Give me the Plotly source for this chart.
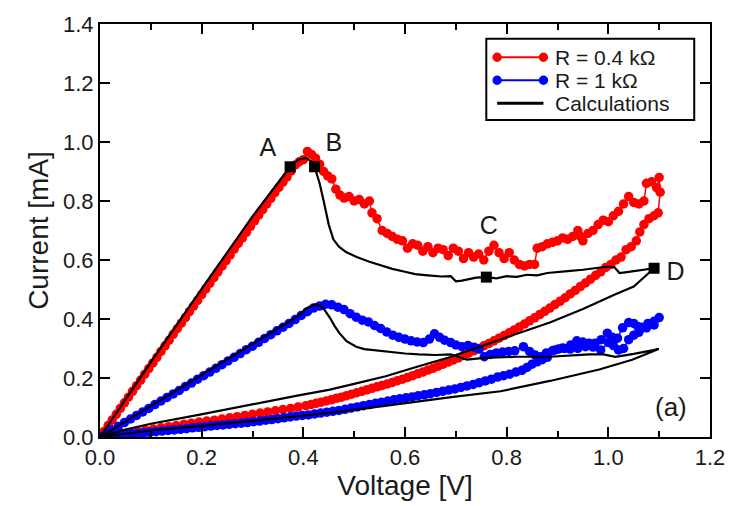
import plotly.graph_objects as go

# ---------------- data ----------------
red_v = [0.000,0.008,0.016,0.024,0.032,0.040,0.048,0.056,0.064,0.072,0.080,0.088,0.096,0.104,0.112,0.120,0.128,0.136,0.144,0.152,
         0.160,0.168,0.176,0.184,0.192,0.200,0.208,0.216,0.224,0.232,0.240,0.248,0.256,0.264,0.272,0.280,0.288,0.296,0.304,0.312,
         0.320,0.328,0.336,0.344,0.352,0.360,0.368,0.376,0.384,0.392,0.400,0.408,0.416,0.424,0.432,0.440,0.448,0.456,0.464,0.472,
         0.480,0.490,0.500,0.510,0.520,0.530,0.535,0.545,0.555,0.565,0.575,0.585,0.595,0.605,0.615,0.625,0.635,0.645,0.655,0.665,
         0.675,0.685,0.695,0.705,0.715,0.725,0.735,0.745,0.755,0.765,0.775,0.785,0.795,0.805,0.815,0.825,0.835,0.845,0.855,0.860,
         0.870,0.880,0.890,0.900,0.910,0.920,0.930,0.940,0.945,0.950,0.960,0.970,0.980,0.990,1.000,1.010,1.020,1.030,1.040,1.050,
         1.060,1.070,1.075,1.085,1.095,1.100,1.102,
         1.098,1.090,1.080,1.070,1.062,1.055,1.045,1.035,1.025,1.015,1.005,0.995,0.985,0.975,0.965,0.955,0.945,0.935,0.925,0.915,
         0.905,0.895,0.885,0.875,0.865,0.855,0.845,0.835,0.825,0.815,0.805,0.795,0.785,0.775,0.765,0.755,0.745,0.735,0.725,0.715,
         0.705,0.695,0.685,0.675,0.665,0.655,0.645,0.635,0.625,0.615,0.605,0.595,0.585,0.575,0.565,0.555,0.545,0.535,0.525,0.515,
         0.505,0.495,0.485,0.475,0.465,0.455,0.445,0.435,0.425,0.415,0.405,0.390,0.375,0.360,0.345,0.330,0.315,0.300,0.285,0.270,
         0.255,0.240,0.225,0.210,0.195,0.180,0.165,0.150,0.135,0.120,0.105,0.090,0.075,0.060,0.045,0.030,0.015,0.000]
red_i = [0.000,0.019,0.039,0.058,0.077,0.097,0.116,0.135,0.155,0.174,0.193,0.213,0.232,0.251,0.270,0.290,0.309,0.328,0.348,0.367,
         0.386,0.405,0.425,0.444,0.463,0.483,0.502,0.521,0.540,0.560,0.579,0.598,0.617,0.637,0.656,0.675,0.694,0.714,0.733,0.752,
         0.771,0.790,0.809,0.828,0.846,0.864,0.882,0.902,0.922,0.933,0.940,0.968,0.958,0.945,0.925,0.900,0.885,0.875,0.840,0.820,
         0.810,0.815,0.800,0.805,0.790,0.800,0.760,0.740,0.700,0.690,0.680,0.670,0.665,0.640,0.655,0.650,0.630,0.645,0.625,0.640,
         0.635,0.615,0.640,0.630,0.605,0.625,0.610,0.620,0.600,0.630,0.650,0.625,0.605,0.625,0.600,0.585,0.580,0.585,0.585,0.640,
         0.645,0.655,0.660,0.665,0.675,0.670,0.680,0.700,0.680,0.665,0.690,0.700,0.720,0.735,0.730,0.750,0.765,0.790,0.815,0.795,
         0.790,0.800,0.860,0.865,0.845,0.880,0.830,
         0.760,0.750,0.740,0.720,0.695,0.665,0.645,0.635,0.610,0.600,0.585,0.575,0.560,0.548,0.535,0.522,0.510,0.497,0.485,0.472,
         0.460,0.449,0.437,0.426,0.415,0.404,0.394,0.383,0.373,0.363,0.353,0.344,0.335,0.326,0.317,0.309,0.300,0.292,0.284,0.276,
         0.268,0.261,0.254,0.247,0.240,0.233,0.227,0.220,0.214,0.208,0.202,0.196,0.191,0.185,0.180,0.175,0.170,0.165,0.160,0.155,
         0.150,0.145,0.140,0.135,0.131,0.126,0.122,0.118,0.114,0.110,0.106,0.102,0.097,0.093,0.089,0.085,0.081,0.077,0.073,0.069,
         0.065,0.061,0.057,0.054,0.051,0.047,0.043,0.039,0.035,0.031,0.027,0.023,0.019,0.015,0.011,0.007,0.004,0.000]

blue_v = [0.000,0.012,0.024,0.036,0.048,0.060,0.072,0.084,0.096,0.108,0.120,0.132,0.144,0.156,0.168,0.180,0.192,0.204,0.216,0.228,
          0.240,0.252,0.264,0.276,0.288,0.300,0.312,0.324,0.336,0.348,0.360,0.372,0.384,0.396,0.408,0.420,0.432,0.444,0.456,0.468,
          0.480,0.492,0.504,0.516,0.528,0.540,0.552,0.564,0.576,0.588,0.600,0.612,0.624,0.636,0.648,0.658,0.668,0.678,0.690,0.700,
          0.712,0.724,0.736,0.746,0.756,0.768,0.780,0.792,0.804,0.816,0.833,0.845,0.856,0.866,0.878,0.890,0.902,0.914,0.926,0.938,
          0.950,0.962,0.974,0.986,0.998,1.008,1.018,1.028,1.040,1.050,1.058,1.066,1.078,1.090,1.100,
          1.090,1.075,1.060,1.050,1.040,1.030,1.020,1.010,1.000,0.985,0.970,0.955,0.940,0.925,0.910,0.895,0.880,0.870,0.860,0.850,
          0.840,0.830,0.818,0.806,0.794,0.782,0.770,0.758,0.746,0.734,0.722,0.710,0.698,0.686,0.674,0.662,0.650,0.638,0.626,0.614,
          0.602,0.590,0.578,0.566,0.554,0.542,0.530,0.518,0.506,0.494,0.482,0.470,0.458,0.446,0.434,0.422,0.410,0.398,0.386,0.374,
          0.362,0.350,0.338,0.326,0.314,0.302,0.290,0.278,0.266,0.254,0.242,0.230,0.218,0.206,0.194,0.182,0.170,0.158,0.146,0.134,
          0.122,0.110,0.098,0.086,0.074,0.062,0.050,0.038,0.026,0.014,0.000]
blue_i = [0.000,0.012,0.024,0.036,0.049,0.061,0.073,0.085,0.097,0.110,0.122,0.134,0.146,0.158,0.171,0.183,0.196,0.208,0.220,0.233,
          0.245,0.258,0.270,0.283,0.296,0.308,0.321,0.334,0.347,0.360,0.372,0.385,0.398,0.412,0.425,0.437,0.444,0.450,0.448,0.440,
          0.432,0.418,0.406,0.396,0.390,0.378,0.368,0.356,0.345,0.338,0.332,0.326,0.322,0.320,0.332,0.350,0.338,0.328,0.320,0.312,
          0.306,0.310,0.304,0.298,0.272,0.280,0.285,0.288,0.290,0.292,0.306,0.290,0.278,0.272,0.285,0.292,0.298,0.300,0.312,0.326,
          0.322,0.318,0.318,0.330,0.352,0.338,0.335,0.370,0.388,0.385,0.375,0.372,0.385,0.392,0.405,
          0.380,0.370,0.355,0.345,0.330,0.300,0.295,0.310,0.320,0.295,0.305,0.306,0.300,0.298,0.302,0.295,0.270,0.262,0.255,0.247,
          0.236,0.226,0.220,0.213,0.208,0.203,0.196,0.190,0.184,0.178,0.173,0.168,0.163,0.159,0.155,0.151,0.147,0.143,0.140,0.136,
          0.133,0.130,0.126,0.122,0.118,0.114,0.110,0.106,0.102,0.098,0.094,0.090,0.087,0.084,0.081,0.078,0.075,0.073,0.071,0.068,
          0.065,0.062,0.059,0.057,0.054,0.052,0.049,0.047,0.045,0.043,0.041,0.039,0.037,0.035,0.033,0.031,0.028,0.026,0.024,0.022,
          0.020,0.018,0.016,0.014,0.012,0.010,0.008,0.006,0.004,0.002,0.000]

calc1_v = [0.000,0.100,0.200,0.300,0.374,0.390,0.405,0.415,0.422,0.432,0.440,0.450,0.459,0.470,0.484,0.505,0.530,0.555,0.575,0.600,
           0.620,0.645,0.672,0.690,0.700,0.712,0.725,0.740,0.760,0.780,0.800,0.820,0.840,0.860,0.880,0.900,0.920,0.950,0.980,1.000,
           1.012,1.022,1.040,1.065,1.090,1.050,1.014,0.950,0.885,0.820,0.756,0.691,0.627,0.562,0.500,0.450,0.388,0.300,0.194,0.100,
           0.050,0.000]
calc1_i = [0.000,0.254,0.502,0.748,0.916,0.940,0.946,0.935,0.916,0.860,0.800,0.720,0.670,0.645,0.627,0.610,0.594,0.580,0.570,0.560,
           0.552,0.548,0.544,0.545,0.528,0.530,0.535,0.540,0.542,0.538,0.545,0.543,0.550,0.548,0.556,0.558,0.562,0.567,0.575,0.578,
           0.575,0.556,0.560,0.566,0.572,0.510,0.484,0.434,0.388,0.350,0.310,0.272,0.240,0.206,0.180,0.160,0.140,0.110,0.075,0.045,
           0.025,0.000]

calc2_v = [0.000,0.100,0.200,0.300,0.380,0.410,0.425,0.438,0.452,0.462,0.471,0.485,0.504,0.520,0.536,0.562,0.600,0.627,0.660,0.690,
           0.710,0.722,0.756,0.790,0.820,0.885,0.962,0.990,1.014,1.050,1.099,1.047,0.982,0.885,0.788,0.691,0.594,0.500,0.388,0.300,
           0.194,0.100,0.000]
calc2_i = [0.000,0.105,0.210,0.315,0.400,0.440,0.450,0.440,0.405,0.375,0.352,0.325,0.306,0.298,0.295,0.288,0.283,0.280,0.278,0.280,
           0.270,0.262,0.268,0.270,0.272,0.272,0.280,0.280,0.272,0.282,0.298,0.262,0.229,0.190,0.155,0.135,0.112,0.092,0.070,0.054,
           0.037,0.022,0.000]

point_v = [0.374, 0.422, 0.760, 1.090]
point_i = [0.916, 0.916, 0.542, 0.572]
point_labels = ["A", "B", "C", "D"]
label_v = [0.330, 0.460, 0.765, 1.132]
label_i = [0.975, 0.990, 0.710, 0.554]

x_ticks = [0.0, 0.2, 0.4, 0.6, 0.8, 1.0, 1.2]
y_ticks = [0.0, 0.2, 0.4, 0.6, 0.8, 1.0, 1.2, 1.4]

series_names = ["R = 0.4 kΩ", "R = 1 kΩ", "Calculations"]
series_colors = ["#ff0000", "#0000ff", "#000000"]

FONT = "Liberation Sans, Arial, sans-serif"
TXT = "#1a1a1a"

fig = go.Figure()
fig.add_trace(go.Scatter(x=red_v, y=red_i, mode="lines+markers", name=series_names[0], showlegend=False,
                         line=dict(color=series_colors[0], width=1.5),
                         marker=dict(color=series_colors[0], size=9.5, line=dict(width=0))))
fig.add_trace(go.Scatter(x=blue_v, y=blue_i, mode="lines+markers", name=series_names[1], showlegend=False,
                         line=dict(color=series_colors[1], width=1.5),
                         marker=dict(color=series_colors[1], size=9.5, line=dict(width=0))))
fig.add_trace(go.Scatter(x=calc1_v, y=calc1_i, mode="lines", name=series_names[2], showlegend=False,
                         line=dict(color="black", width=2.2)))
fig.add_trace(go.Scatter(x=calc2_v, y=calc2_i, mode="lines", name=series_names[2], showlegend=False,
                         line=dict(color="black", width=2.2)))
fig.add_trace(go.Scatter(x=point_v, y=point_i, mode="markers", showlegend=False,
                         marker=dict(symbol="square", color="black", size=11)))
fig.add_trace(go.Scatter(x=label_v, y=label_i, mode="text", text=point_labels, showlegend=False,
                         textfont=dict(family=FONT, size=25, color=TXT)))

fig.add_annotation(x=1.124, y=0.103, text="(a)", showarrow=False,
                   font=dict(family=FONT, size=26, color=TXT))

# ---- custom legend (Origin style: line with a marker at both ends) ----
L, T, PW, PH = 100, 17, 619, 422   # plot area in pixels
def px(X):
    return (X - L) / PW
def py(Y):
    return (T + PH - Y) / PH

shapes = [dict(type="rect", xref="paper", yref="paper", x0=px(492), x1=px(703), y0=py(115), y1=py(32),
               line=dict(color="black", width=2), fillcolor="white", layer="above")]
rows_y = [51, 74.5, 98]
for k, (nm, col) in enumerate(zip(series_names, series_colors)):
    yy = py(rows_y[k])
    shapes.append(dict(type="line", xref="paper", yref="paper", x0=px(503), x1=px(550), y0=yy, y1=yy,
                       line=dict(color=col, width=2 if k < 2 else 3), layer="above"))
    if k < 2:
        for xx in (503, 550):
            shapes.append(dict(type="circle", xref="paper", yref="paper", xsizemode="pixel", ysizemode="pixel",
                               xanchor=px(xx), yanchor=yy, x0=-4.7, x1=4.7, y0=-4.7, y1=4.7,
                               fillcolor=col, line=dict(color=col, width=0), layer="above"))
    fig.add_annotation(xref="paper", yref="paper", x=px(561), y=yy, xanchor="left", yanchor="middle",
                       text=nm, showarrow=False, borderpad=0,
                       font=dict(family=FONT, size=21, color=TXT))

axis_common = dict(showline=True, linecolor="black", linewidth=2, mirror="ticks",
                   ticks="inside", ticklen=10, tickwidth=2, tickcolor="black",
                   showgrid=False, zeroline=False,
                   tickfont=dict(family=FONT, size=22, color=TXT))

fig.update_xaxes(range=[0, 1.2], tickvals=x_ticks, tickformat=".1f",
                 title=dict(text="Voltage [V]", font=dict(family=FONT, size=28, color=TXT), standoff=4),
                 minor=dict(ticks="inside", ticklen=6, tickwidth=2, tickcolor="black", dtick=0.1, tick0=0),
                 **axis_common)
fig.update_yaxes(range=[0, 1.4], tickvals=y_ticks, tickformat=".1f",
                 title=dict(text="Current [mA]", font=dict(family=FONT, size=28, color=TXT), standoff=6),
                 **axis_common)

fig.update_layout(
    width=737, height=506,
    margin=dict(l=100, r=18, t=17, b=67),
    plot_bgcolor="white", paper_bgcolor="white",
    font=dict(family=FONT, color=TXT),
    showlegend=False,
    shapes=shapes,
)

fig.write_html("out.html")
